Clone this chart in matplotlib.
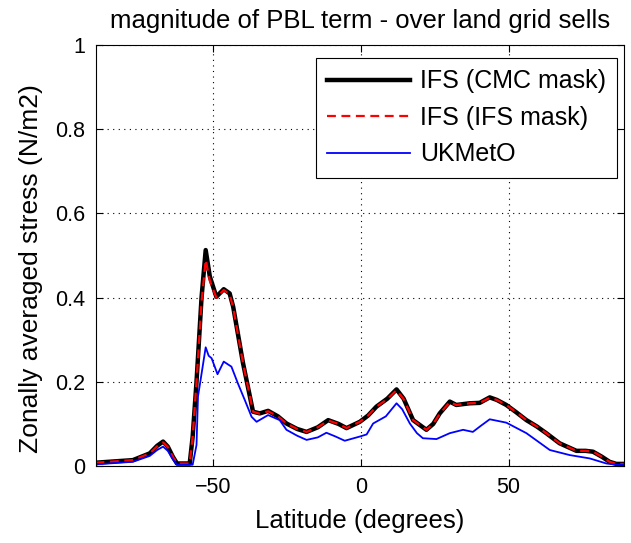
import matplotlib
matplotlib.use("Agg")
import matplotlib.pyplot as plt
import numpy as np

plt.rcParams['font.family'] = ['Liberation Sans', 'DejaVu Sans']

lat_ifs = [-89.5, -89.3, -77.0, -71.3, -68.8, -66.8, -65.2, -63.5, -62.1, -57.8, -56.8, -55.5,
           -53.8, -52.4, -51.0, -48.8, -46.3, -44.3, -43.1, -39.8, -36.4, -34.1, -31.3,
           -28.0, -25.1, -21.5, -18.3, -14.5, -11.0, -7.5, -4.8, -0.3, 2.5,
           5.3, 9.0, 12.1, 14.5, 17.7, 22.2, 24.5, 26.7, 30.1, 32.3, 36.8, 40.2, 43.6, 46.0,
           49.2, 52.5, 56.0, 59.5, 62.7, 67.2, 72.9, 76.0, 78.5, 81.5, 84.1, 86.4, 88.9]
ifs_cmc = [0.006, 0.008, 0.014, 0.03, 0.048, 0.058, 0.046, 0.022, 0.006, 0.006, 0.07, 0.2,
           0.40, 0.513, 0.45, 0.402, 0.42, 0.41, 0.378, 0.245, 0.129, 0.125, 0.131,
           0.118, 0.101, 0.088, 0.081, 0.092, 0.109, 0.100, 0.09, 0.105, 0.120,
           0.141, 0.160, 0.182, 0.160, 0.109, 0.086, 0.100, 0.125, 0.153, 0.145, 0.149, 0.15,
           0.163, 0.157, 0.145, 0.128, 0.109, 0.094, 0.078, 0.054, 0.036, 0.036, 0.034, 0.022,
           0.01, 0.005, 0.005]
ifs_ifs = [0.006, 0.008, 0.014, 0.03, 0.047, 0.056, 0.045, 0.022, 0.006, 0.006, 0.07, 0.2,
           0.39, 0.49, 0.44, 0.400, 0.418, 0.408, 0.376, 0.245, 0.129, 0.124, 0.130,
           0.118, 0.101, 0.088, 0.081, 0.092, 0.108, 0.100, 0.09, 0.105, 0.120,
           0.141, 0.159, 0.180, 0.159, 0.109, 0.086, 0.100, 0.124, 0.152, 0.145, 0.149, 0.15,
           0.162, 0.157, 0.145, 0.128, 0.109, 0.094, 0.078, 0.054, 0.036, 0.036, 0.034, 0.022,
           0.01, 0.005, 0.005]

lat_uk = [-89.5, -89.3, -77.0, -71.3, -68.8, -66.8, -65.2, -63.5, -62.1, -56.8, -55.5, -55.0,
          -52.4, -51.4, -50.4, -48.4, -46.3, -43.7, -41.5, -39.2, -36.9, -35.2, -31.3, -27.4,
          -25.1, -21.5, -18.3, -14.5, -11.6, -8.5, -5.4, -0.3, 2.0, 4.2, 8.5, 12.1, 14.0,
          16.6, 19.0, 21.0, 25.6, 30.1, 34.6, 37.9, 40.5, 43.6, 49.2, 56.0, 63.9,
          70.6, 77.4, 83.0, 86.4, 88.9]
ukmo = [0.003, 0.004, 0.01, 0.024, 0.038, 0.046, 0.036, 0.016, 0.003, 0.003, 0.05, 0.165,
        0.282, 0.262, 0.256, 0.218, 0.248, 0.236, 0.196, 0.157, 0.117, 0.105, 0.121, 0.109,
        0.086, 0.072, 0.062, 0.068, 0.079, 0.070, 0.06, 0.07, 0.075, 0.101, 0.118, 0.149, 0.135,
        0.101, 0.078, 0.066, 0.064, 0.078, 0.086, 0.081, 0.095, 0.111, 0.103, 0.078, 0.038,
        0.026, 0.018, 0.006, 0.003, 0.003]

xticks = [-50, 0, 50]
yticks = [0, 0.2, 0.4, 0.6, 0.8, 1]
yticklabels = ['0', '0.2', '0.4', '0.6', '0.8', '1']

fig = plt.figure(figsize=(6.31, 5.43), dpi=100)
ax = fig.add_axes([0.152, 0.1418, 0.837, 0.7752])

ax.plot(lat_ifs, ifs_cmc, color='black', lw=3.2, label='IFS (CMC mask)')
ax.plot(lat_ifs, ifs_ifs, color='red', lw=1.6, ls=(0, (4, 2.5)), label='IFS (IFS mask)')
ax.plot(lat_uk, ukmo, color='blue', lw=1.3, label='UKMetO')

ax.set_xlim(-89.5, 89)
ax.set_ylim(0, 1)
ax.set_xticks(xticks)
ax.set_yticks(yticks)
ax.set_yticklabels(yticklabels)
ax.tick_params(direction='in', top=True, right=True, labelsize=15.5, length=5, pad=8)
ax.grid(True, color='black', ls=(0, (1, 4)), lw=0.8)
for s in ax.spines.values():
    s.set_linewidth(0.8)

ax.set_xlabel('Latitude (degrees)', fontsize=18.5, labelpad=8)
ax.set_ylabel('Zonally averaged stress (N/m2)', fontsize=19)
ax.yaxis.set_label_coords(-0.1, 0.47)
ax.set_title('magnitude of PBL term - over land grid sells', fontsize=18.5, pad=12)

leg = ax.legend(loc='upper right', fontsize=18, fancybox=False, framealpha=1,
                edgecolor='black', handlelength=3.3, handletextpad=0.4, borderpad=0.45,
                labelspacing=0.5, borderaxespad=0, bbox_to_anchor=(0.9867, 0.969))
leg.get_frame().set_linewidth(0.8)

fig.savefig('out.png', dpi=100)
